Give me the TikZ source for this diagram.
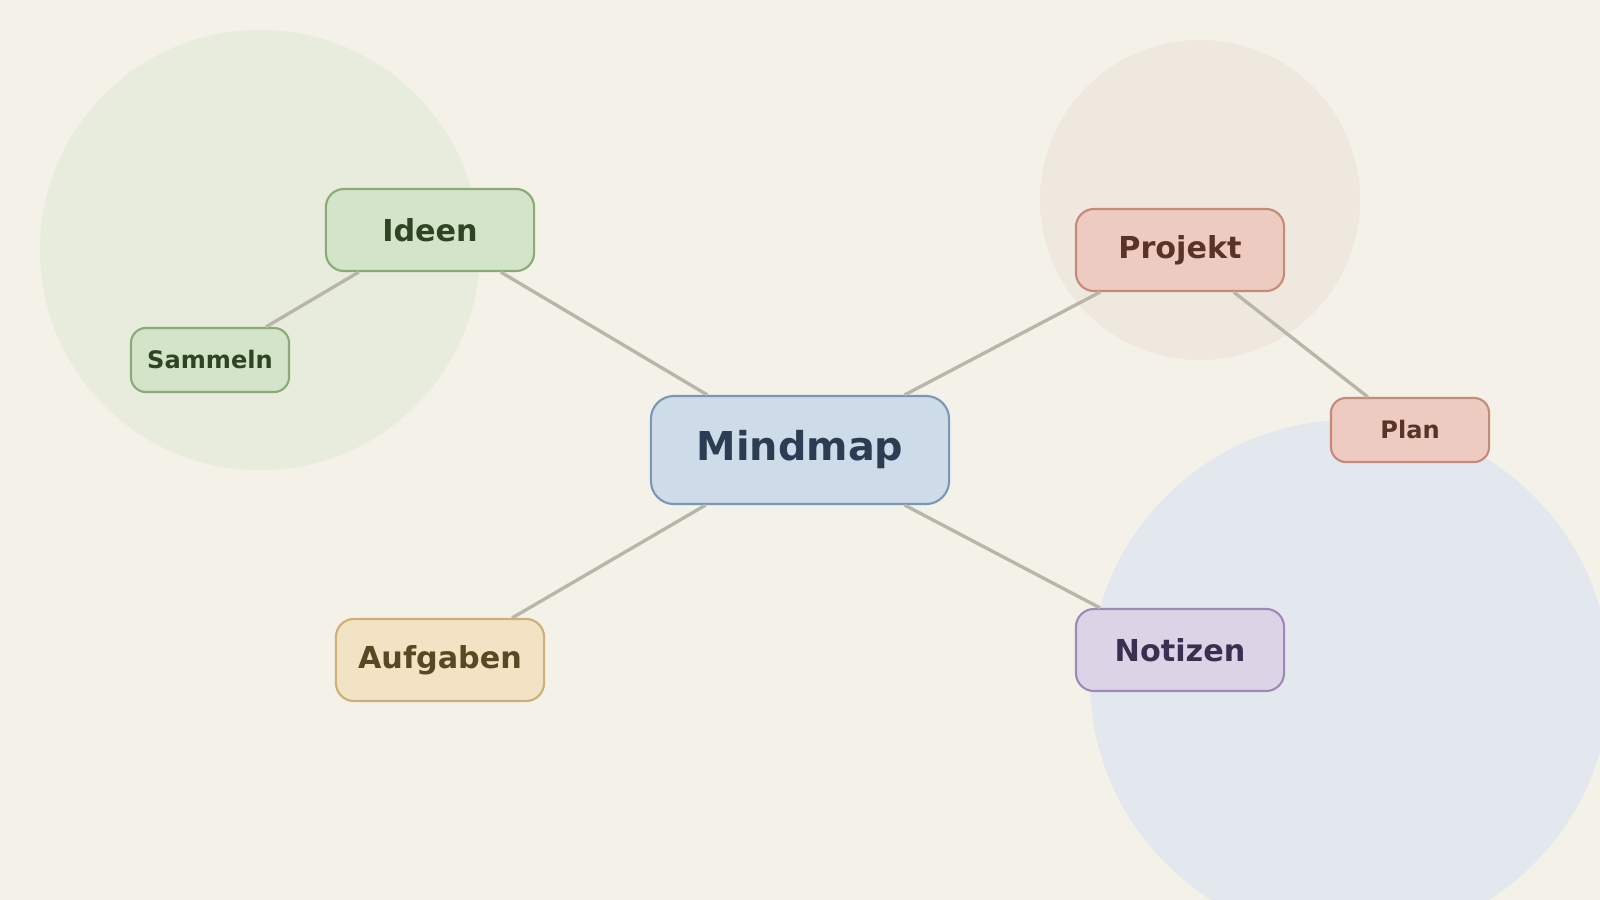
\documentclass[tikz,border=0pt]{standalone}
\usepackage{fontspec}
\setmainfont{DejaVu Sans}

\definecolor{paper}{HTML}{F3F1E8}
\definecolor{linkgray}{HTML}{B8B5A9}
\definecolor{blobgreen}{HTML}{E7ECDC}
\definecolor{blobsand}{HTML}{EEE8DE}
\definecolor{blobblue}{HTML}{E3E7EE}
\definecolor{rootfill}{HTML}{CEDBE8}
\definecolor{rootdraw}{HTML}{7A96B8}
\definecolor{roottext}{HTML}{2B3D52}
\definecolor{greenfill}{HTML}{D4E4C8}
\definecolor{greendraw}{HTML}{8AAB78}
\definecolor{greentext}{HTML}{2E4424}
\definecolor{redfill}{HTML}{EECBC1}
\definecolor{reddraw}{HTML}{C88A78}
\definecolor{redtext}{HTML}{5A3328}
\definecolor{yellowfill}{HTML}{F1E3C3}
\definecolor{yellowdraw}{HTML}{CDB078}
\definecolor{yellowtext}{HTML}{5A4822}
\definecolor{violetfill}{HTML}{DDD3E6}
\definecolor{violetdraw}{HTML}{9E8AB8}
\definecolor{violettext}{HTML}{3B2E50}

\tikzset{
  rootbox/.style={draw, line width=0.6pt, inner sep=0pt, rounded corners=0.23cm,
    minimum width=2.98cm, minimum height=1.08cm,
    font=\fontsize{11.3}{14}\selectfont\bfseries},
  branchbox/.style={draw, line width=0.6pt, inner sep=0pt, rounded corners=0.18cm,
    minimum width=2.08cm, minimum height=0.82cm,
    font=\fontsize{8.6}{11}\selectfont\bfseries},
  leafbox/.style={draw, line width=0.6pt, inner sep=0pt, rounded corners=0.15cm,
    minimum width=1.58cm, minimum height=0.64cm,
    font=\fontsize{6.85}{9}\selectfont\bfseries},
  root/.style={fill=rootfill, draw=rootdraw, text=roottext},
  green/.style={fill=greenfill, draw=greendraw, text=greentext},
  red/.style={fill=redfill, draw=reddraw, text=redtext},
  yellow/.style={fill=yellowfill, draw=yellowdraw, text=yellowtext},
  violet/.style={fill=violetfill, draw=violetdraw, text=violettext},
  link/.style={draw=linkgray, line width=0.95pt}
}

\begin{document}
\begin{tikzpicture}[x=0.01cm, y=-0.01cm]
  \fill[paper] (0,0) rectangle (1600,900);
  \useasboundingbox (0,0) rectangle (1600,900);
  \clip (0,0) rectangle (1600,900);
  % soft blobs behind the map
  \fill[blobgreen] (260,250) circle (220);
  \fill[blobsand] (1200,200) circle (160);
  \fill[blobblue] (1350,680) circle (260);

  \node[rootbox, root] (mind) at (800,450) {Mindmap};
  \node[branchbox, green] (ideen) at (430,230) {Ideen};
  \node[branchbox, red] (projekt) at (1180,250) {Projekt};
  \node[branchbox, yellow] (aufgaben) at (440,660) {Aufgaben};
  \node[branchbox, violet] (notizen) at (1180,650) {Notizen};
  \node[leafbox, green] (sammeln) at (210,360) {Sammeln};
  \node[leafbox, red] (plan) at (1410,430) {Plan};

  \draw[link] (mind) -- (ideen);
  \draw[link] (mind) -- (projekt);
  \draw[link] (mind) -- (aufgaben);
  \draw[link] (mind) -- (notizen);
  \draw[link] (ideen) -- (sammeln);
  \draw[link] (projekt) -- (plan);
\end{tikzpicture}
\end{document}
